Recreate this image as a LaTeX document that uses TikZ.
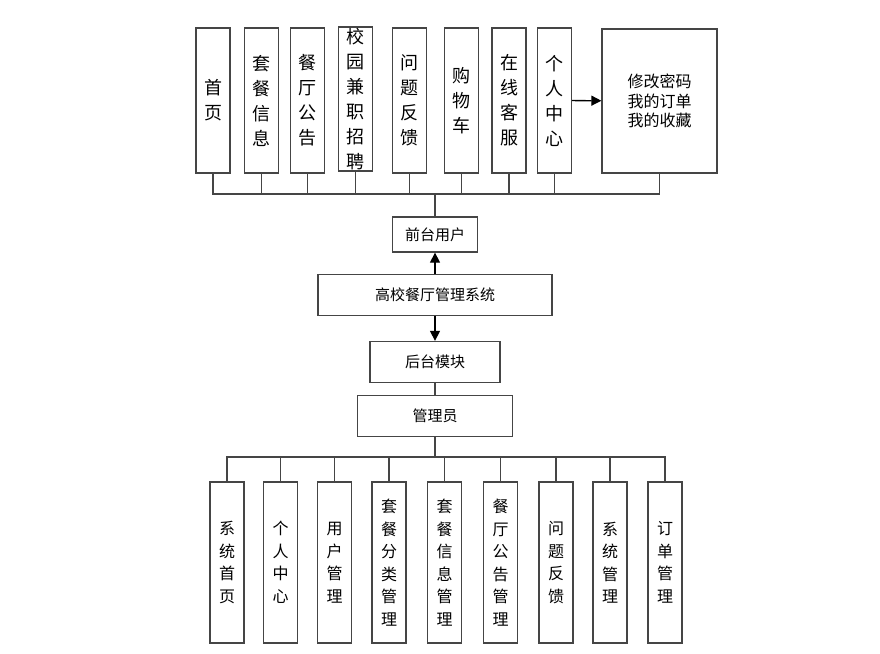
\documentclass[tikz,border=0pt]{standalone}
\usepackage{fontspec}
\setmainfont{Noto Sans CJK SC}
\usetikzlibrary{arrows.meta}
\definecolor{edge}{HTML}{454545}
\tikzset{
  >={Triangle[length=10pt,width=10pt]},
  vbox/.style={draw=edge,line width=1.3pt,fill=white,align=center,minimum width=34pt,minimum height=145pt,inner sep=0pt,font=\fontsize{18}{25}\selectfont},
  sbox/.style={vbox,minimum height=161pt,font=\fontsize{16}{22.5}\selectfont},
  mbox/.style={draw=edge,line width=1.3pt,fill=white,align=center,inner sep=0pt,font=\fontsize{15}{18}\selectfont},
  flow/.style={->,line width=1.3pt,draw=black},
  link/.style={line width=1.3pt,draw=edge}
}
\begin{document}
\begin{tikzpicture}[x=1pt,y=-1pt]
  \useasboundingbox (0,0) rectangle (880,653);
  % front end
  \node[vbox] (shouye) at (213,100.5) {首\\页};
  \node[vbox] (taocan) at (261.5,100.5) {套\\餐\\信\\息};
  \node[vbox] (canting) at (307.5,100.5) {餐\\厅\\公\\告};
  \node[vbox,minimum height=144pt] (jianzhi) at (355.5,99) {校\\园\\兼\\职\\招\\聘};
  \node[vbox] (wenti) at (409.5,100.5) {问\\题\\反\\馈};
  \node[vbox] (gouwu) at (461.5,100.5) {购\\物\\车};
  \node[vbox] (kefu) at (509,100.5) {在\\线\\客\\服};
  \node[vbox] (geren) at (554.5,100.5) {个\\人\\中\\心};
  \node[vbox,minimum width=115pt,minimum height=144pt,font=\fontsize{16}{19.5}\selectfont] (gerenmore) at (659.5,101) {修改密码\\我的订单\\我的收藏};
  \node[mbox,minimum width=85pt,minimum height=35pt] (qiantai) at (435,234.5) {前台用户};
  \node[mbox,minimum width=234pt,minimum height=41pt] (xitong) at (435,295) {高校餐厅管理系统};
  % back end
  \node[mbox,minimum width=130pt,minimum height=41pt] (houtai) at (435,362) {后台模块};
  \node[mbox,minimum width=155pt,minimum height=41pt] (admin) at (435,416) {管理员};
  \node[sbox] (xtsy) at (227,562.5) {系\\统\\首\\页};
  \node[sbox] (grzx) at (280.5,562.5) {个\\人\\中\\心};
  \node[sbox] (yhgl) at (334.5,562.5) {用\\户\\管\\理};
  \node[sbox] (tcfl) at (389,562.5) {套\\餐\\分\\类\\管\\理};
  \node[sbox] (tcxx) at (444.5,562.5) {套\\餐\\信\\息\\管\\理};
  \node[sbox] (ctgg) at (500.5,562.5) {餐\\厅\\公\\告\\管\\理};
  \node[sbox] (wtfk) at (556,562.5) {问\\题\\反\\馈};
  \node[sbox] (xtgl) at (610,562.5) {系\\统\\管\\理};
  \node[sbox] (ddgl) at (665,562.5) {订\\单\\管\\理};
  \coordinate (topbus) at (435,194);
  \coordinate (botbus) at (435,457);
  \draw[link] (shouye) |- (topbus);
  \draw[link] (taocan) |- (topbus);
  \draw[link] (canting) |- (topbus);
  \draw[link] (jianzhi) |- (topbus);
  \draw[link] (wenti) |- (topbus);
  \draw[link] (gouwu) |- (topbus);
  \draw[link] (kefu) |- (topbus);
  \draw[link] (geren) |- (topbus);
  \draw[link] (gerenmore) |- (topbus);
  \draw[link] (topbus) -- (qiantai);
  \draw[flow] (geren) -- (gerenmore);
  \draw[flow] (xitong) -- (qiantai);
  \draw[flow] (xitong) -- (houtai);
  \draw[link] (houtai) -- (admin);
  \draw[link] (admin) -- (botbus);
  \draw[link] (botbus) -| (xtsy);
  \draw[link] (botbus) -| (grzx);
  \draw[link] (botbus) -| (yhgl);
  \draw[link] (botbus) -| (tcfl);
  \draw[link] (botbus) -| (tcxx);
  \draw[link] (botbus) -| (ctgg);
  \draw[link] (botbus) -| (wtfk);
  \draw[link] (botbus) -| (xtgl);
  \draw[link] (botbus) -| (ddgl);
\end{tikzpicture}
\end{document}
